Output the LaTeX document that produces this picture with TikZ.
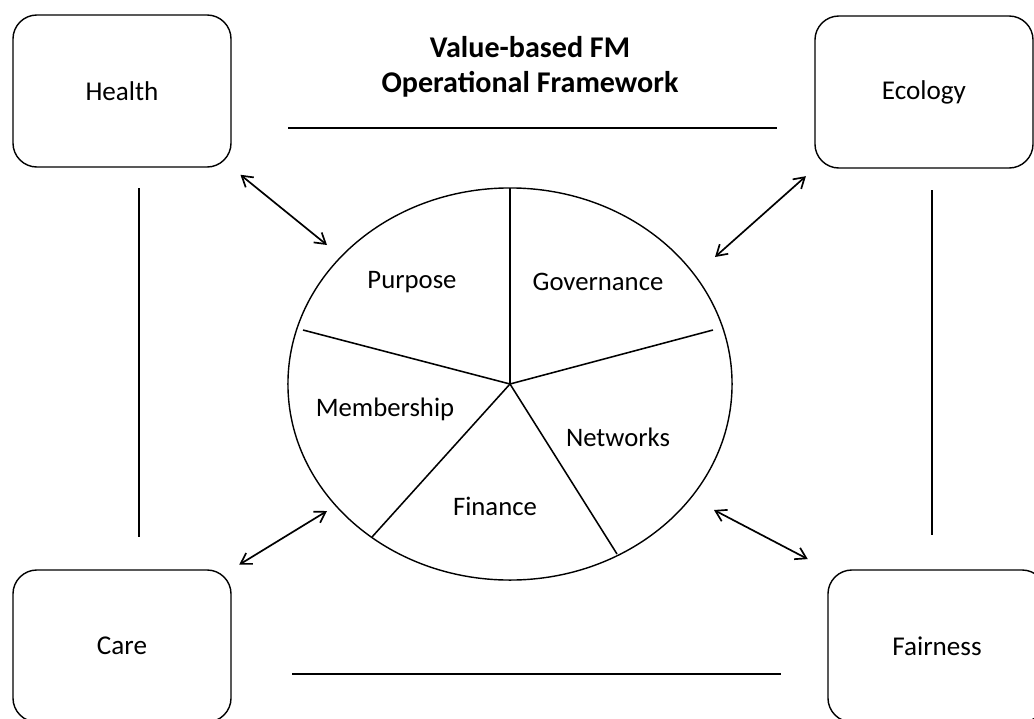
\documentclass[tikz,border=0pt]{standalone}
\usepackage{xcolor}
\usepackage{fontspec}
\setmainfont{Carlito}
\usepackage{tikz}
\usetikzlibrary{shapes.geometric, arrows, arrows.meta}
\usetikzlibrary{positioning}

\begin{document}
\begin{tikzpicture}[x=0.025cm, y=-0.025cm]
\tikzstyle{valuebox} = [rectangle, rounded corners=0.6cm, minimum width=5.45cm, minimum height=3.8cm, text centered, draw=black, line width=1pt, font=\fontsize{19.3}{23}\selectfont]
\tikzstyle{wheel} = [ellipse, minimum width=11.1cm, minimum height=9.8cm, inner sep=0pt, outer sep=0pt, draw=black, line width=1pt]
\tikzstyle{part} = [font=\fontsize{19}{23}\selectfont]
\tikzstyle{spoke} = [line width=1.1pt]
\tikzstyle{rule} = [line width=1.4pt]
\tikzstyle{arrow} = [line width=1.2pt,{Straight Barb[length=2.6mm,width=3.2mm]}-{Straight Barb[length=2.6mm,width=3.2mm]}]

\useasboundingbox (0,0) rectangle (1034,718);

% Nodes
\node (title) [align=center, font=\fontsize{21.4}{24.5}\bfseries] at (530,67) {Value-based FM\\Operational Framework};
\node (health) [valuebox] at (122,91) {Health};
\node (ecology) [valuebox] at (924,92) {Ecology};
\node (care) [valuebox] at (122,646) {Care};
\node (fairness) [valuebox] at (937,646) {Fairness};
\node (hub) [wheel] at (510,384) {};

\node (purpose) [part] at (412,282) {Purpose};
\node (governance) [part] at (598,282) {Governance};
\node (membership) [part] at (385,409) {Membership};
\node (networks) [part] at (618,437) {Networks};
\node (finance) [part] at (495,506) {Finance};

% Spoke ends and arrow ends
\coordinate (s-e) at (713,330);
\coordinate (s-w) at (303,330);
\coordinate (s-sw) at (372,537);
\coordinate (s-se) at (617,554);
\coordinate (w-nw) at (327,245);
\coordinate (w-ne) at (715,257);
\coordinate (w-sw) at (327,511);
\coordinate (w-se) at (714,510);

% Spokes
\draw [spoke] (hub.center) -- (hub.north);
\draw [spoke] (hub.center) -- (s-e);
\draw [spoke] (hub.center) -- (s-w);
\draw [spoke] (hub.center) -- (s-sw);
\draw [spoke] (hub.center) -- (s-se);

% Frame lines
\draw [rule] (288,128) -- (777,128);
\draw [rule] (292,674) -- (781,674);
\draw [rule] (139,188) -- (139,537);
\draw [rule] (932,190) -- (932,535);

% Arrows
\draw [arrow, shorten <=0.28cm] (health.south east) -- (w-nw);
\draw [arrow, shorten <=0.28cm] (ecology.south west) -- (w-ne);
\draw [arrow, shorten <=0.22cm] (care.north east) -- (w-sw);
\draw [arrow, shorten <=0.55cm] (fairness.north west) -- (w-se);

\end{tikzpicture}
\end{document}
